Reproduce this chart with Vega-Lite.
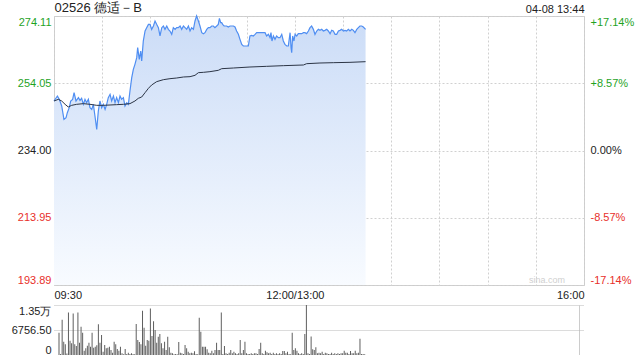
{
 "$schema": "https://vega.github.io/schema/vega-lite/v6.json",
 "padding": {"left": 11, "top": 0, "right": 0, "bottom": 0},
 "background": "white",
 "config": {
  "font": "Liberation Sans",
  "view": {"stroke": null},
  "axis": {"labelFont": "Liberation Sans", "labelFontSize": 11, "labelColor": "#333333", "title": null, "ticks": false, "domain": false}
 },
 "spacing": 4,
 "datasets": {
  "price": [
   {"t":0,"p":248.76},{"t":2.1,"p":250.25},{"t":3.3,"p":249.26},{"t":4.8,"p":247.27},{"t":6.2,"p":243.29},{"t":7.5,"p":243.79},{"t":8.3,"p":245.28},{"t":9.5,"p":246.77},{"t":10.4,"p":248.76},{"t":11.6,"p":249.26},{"t":12.5,"p":251.25},{"t":13.7,"p":248.76},{"t":15.2,"p":249.76},{"t":16.2,"p":248.96},{"t":17.2,"p":249.56},{"t":18.3,"p":247.77},{"t":19.3,"p":249.26},{"t":20.3,"p":248.27},{"t":21.4,"p":249.26},{"t":22.4,"p":246.77},{"t":23.5,"p":246.28},{"t":24.5,"p":247.77},{"t":25.5,"p":244.29},{"t":26.6,"p":240.31},{"t":27.6,"p":245.78},{"t":28.6,"p":248.76},{"t":29.7,"p":246.77},{"t":30.7,"p":247.77},{"t":31.8,"p":246.28},{"t":32.8,"p":247.77},{"t":33.8,"p":249.76},{"t":34.9,"p":250.75},{"t":35.9,"p":248.76},{"t":37.0,"p":250.25},{"t":38.0,"p":248.27},{"t":39.0,"p":249.76},{"t":40.1,"p":248.27},{"t":41.1,"p":250.25},{"t":42.1,"p":249.26},{"t":43.2,"p":249.76},{"t":44.2,"p":247.27},{"t":45.3,"p":248.27},{"t":46.3,"p":247.77},{"t":47.3,"p":251.74},{"t":48.4,"p":255.72},{"t":49.4,"p":258.21},{"t":50.4,"p":259.70},{"t":51.5,"p":261.68},{"t":52.1,"p":264.67},{"t":53.1,"p":261.19},{"t":54.0,"p":263.67},{"t":54.6,"p":260.69},{"t":55.6,"p":266.65},{"t":56.7,"p":269.64},{"t":57.7,"p":270.63},{"t":58.8,"p":271.62},{"t":59.8,"p":271.62},{"t":60.8,"p":270.13},{"t":61.9,"p":271.13},{"t":62.9,"p":272.62},{"t":63.9,"p":271.62},{"t":65.0,"p":270.63},{"t":66.0,"p":268.15},{"t":67.1,"p":270.63},{"t":68.1,"p":271.13},{"t":69.1,"p":270.13},{"t":70.2,"p":271.13},{"t":71.2,"p":270.13},{"t":72.2,"p":269.64},{"t":73.3,"p":268.64},{"t":74.3,"p":270.63},{"t":75.4,"p":270.13},{"t":76.4,"p":270.63},{"t":77.4,"p":270.63},{"t":78.5,"p":271.13},{"t":79.5,"p":270.13},{"t":80.6,"p":271.13},{"t":81.6,"p":270.63},{"t":82.6,"p":270.13},{"t":83.7,"p":271.13},{"t":84.7,"p":269.64},{"t":85.7,"p":270.63},{"t":86.8,"p":270.13},{"t":87.8,"p":272.62},{"t":88.8,"p":274.11},{"t":89.9,"p":272.62},{"t":90.9,"p":271.13},{"t":92.0,"p":269.14},{"t":93.0,"p":268.84},{"t":94.0,"p":269.14},{"t":95.1,"p":270.13},{"t":96.1,"p":270.63},{"t":97.1,"p":270.63},{"t":98.2,"p":271.13},{"t":99.2,"p":271.13},{"t":100.2,"p":270.63},{"t":101.3,"p":271.13},{"t":102.3,"p":271.62},{"t":103.0,"p":273.41},{"t":103.8,"p":272.12},{"t":104.4,"p":272.12},{"t":105.0,"p":271.62},{"t":105.9,"p":271.13},{"t":106.5,"p":271.13},{"t":107.5,"p":271.13},{"t":108.5,"p":270.83},{"t":109.6,"p":271.13},{"t":110.6,"p":271.13},{"t":111.7,"p":271.13},{"t":112.7,"p":270.83},{"t":113.7,"p":269.64},{"t":114.8,"p":268.64},{"t":115.8,"p":267.15},{"t":116.9,"p":265.66},{"t":117.9,"p":265.16},{"t":118.9,"p":265.16},{"t":120.0,"p":265.16},{"t":121.0,"p":265.16},{"t":122.0,"p":268.15},{"t":123.1,"p":268.34},{"t":124.1,"p":268.15},{"t":125.2,"p":268.64},{"t":126.2,"p":269.14},{"t":127.2,"p":269.14},{"t":128.3,"p":269.14},{"t":129.3,"p":269.14},{"t":130.3,"p":269.14},{"t":131.4,"p":269.14},{"t":132.4,"p":268.15},{"t":133.5,"p":268.64},{"t":134.5,"p":267.65},{"t":135.1,"p":269.14},{"t":135.7,"p":266.65},{"t":136.6,"p":268.15},{"t":137.6,"p":267.15},{"t":138.6,"p":268.15},{"t":139.7,"p":267.65},{"t":140.7,"p":267.65},{"t":141.8,"p":268.64},{"t":142.8,"p":266.65},{"t":143.8,"p":265.66},{"t":144.9,"p":265.16},{"t":145.9,"p":265.16},{"t":147.0,"p":269.14},{"t":147.6,"p":264.67},{"t":148.0,"p":263.18},{"t":148.6,"p":268.15},{"t":149.4,"p":266.65},{"t":150.1,"p":268.64},{"t":151.1,"p":268.15},{"t":152.1,"p":268.84},{"t":153.2,"p":268.84},{"t":154.2,"p":268.84},{"t":155.3,"p":269.14},{"t":156.3,"p":269.14},{"t":157.3,"p":268.84},{"t":158.4,"p":269.64},{"t":159.4,"p":270.63},{"t":160.4,"p":271.13},{"t":161.5,"p":270.13},{"t":162.5,"p":268.64},{"t":163.6,"p":269.64},{"t":164.6,"p":270.13},{"t":165.6,"p":269.83},{"t":166.7,"p":270.13},{"t":167.7,"p":269.64},{"t":168.7,"p":269.83},{"t":169.8,"p":270.13},{"t":170.8,"p":269.64},{"t":171.9,"p":268.84},{"t":172.9,"p":269.83},{"t":173.9,"p":269.64},{"t":175.0,"p":268.64},{"t":176.0,"p":268.64},{"t":177.1,"p":269.64},{"t":178.1,"p":269.83},{"t":179.1,"p":270.13},{"t":180.2,"p":269.64},{"t":181.2,"p":269.83},{"t":182.2,"p":269.64},{"t":183.3,"p":270.13},{"t":184.3,"p":269.64},{"t":185.4,"p":270.13},{"t":186.4,"p":269.83},{"t":187.4,"p":269.14},{"t":188.5,"p":270.13},{"t":189.5,"p":270.63},{"t":190.5,"p":271.13},{"t":191.6,"p":271.13},{"t":192.6,"p":270.83},{"t":194,"p":270.13}
  ],
  "avg": [
   {"t":0,"a":248.76},{"t":2.7,"a":249.26},{"t":4.8,"a":248.76},{"t":6.9,"a":247.77},{"t":8.9,"a":246.97},{"t":11.0,"a":247.47},{"t":14.1,"a":247.77},{"t":18.3,"a":247.97},{"t":22.4,"a":247.77},{"t":26.6,"a":247.47},{"t":30.7,"a":247.47},{"t":34.9,"a":247.57},{"t":39.0,"a":247.67},{"t":43.2,"a":247.77},{"t":47.3,"a":247.97},{"t":50.4,"a":248.76},{"t":52.5,"a":249.56},{"t":54.6,"a":249.95},{"t":56.7,"a":251.25},{"t":58.8,"a":252.54},{"t":60.8,"a":253.53},{"t":63.9,"a":254.53},{"t":68.1,"a":255.12},{"t":72.2,"a":255.42},{"t":76.4,"a":255.62},{"t":80.6,"a":255.92},{"t":84.7,"a":256.02},{"t":87.8,"a":256.42},{"t":89.9,"a":257.21},{"t":93.0,"a":257.31},{"t":97.1,"a":257.51},{"t":102.3,"a":257.91},{"t":104.4,"a":258.40},{"t":111.7,"a":258.60},{"t":122.0,"a":258.90},{"t":132.4,"a":259.10},{"t":142.8,"a":259.30},{"t":155.3,"a":259.50},{"t":157.3,"a":259.89},{"t":165.6,"a":260.09},{"t":173.9,"a":260.19},{"t":184.3,"a":260.29},{"t":194,"a":260.49}
  ],
  "vol": [
   {"t":0,"v":6000},{"t":1,"v":300},{"t":2,"v":9500},{"t":3,"v":3600},{"t":4,"v":2880},{"t":5,"v":400},{"t":6,"v":11500},{"t":7,"v":3870},{"t":8,"v":3150},{"t":9,"v":11200},{"t":10,"v":2880},{"t":11,"v":2430},{"t":12,"v":11500},{"t":13,"v":3330},{"t":14,"v":7650},{"t":15,"v":6030},{"t":16,"v":1170},{"t":17,"v":1800},{"t":18,"v":2520},{"t":19,"v":3330},{"t":20,"v":2250},{"t":21,"v":6030},{"t":22,"v":1980},{"t":23,"v":2250},{"t":24,"v":2610},{"t":25,"v":8300},{"t":26,"v":3330},{"t":27,"v":5400},{"t":28,"v":900},{"t":29,"v":2700},{"t":30,"v":1800},{"t":31,"v":1980},{"t":32,"v":2250},{"t":33,"v":1350},{"t":34,"v":630},{"t":35,"v":3600},{"t":36,"v":2880},{"t":37,"v":1620},{"t":38,"v":1170},{"t":39,"v":2250},{"t":40,"v":450},{"t":41,"v":200},{"t":42,"v":1620},{"t":43,"v":270},{"t":44,"v":630},{"t":45,"v":270},{"t":46,"v":450},{"t":47,"v":270},{"t":48,"v":200},{"t":49,"v":8400},{"t":50,"v":4050},{"t":51,"v":3510},{"t":52,"v":2880},{"t":53,"v":11950},{"t":54,"v":7390},{"t":55,"v":2520},{"t":56,"v":4050},{"t":57,"v":3870},{"t":58,"v":12600},{"t":59,"v":5130},{"t":60,"v":9100},{"t":61,"v":6760},{"t":62,"v":3330},{"t":63,"v":4950},{"t":64,"v":5670},{"t":65,"v":3150},{"t":66,"v":1800},{"t":67,"v":3600},{"t":68,"v":1350},{"t":69,"v":4950},{"t":70,"v":2070},{"t":71,"v":630},{"t":72,"v":450},{"t":73,"v":180},{"t":74,"v":270},{"t":75,"v":200},{"t":76,"v":3510},{"t":77,"v":630},{"t":78,"v":450},{"t":79,"v":270},{"t":80,"v":2700},{"t":81,"v":1800},{"t":82,"v":900},{"t":83,"v":450},{"t":84,"v":630},{"t":85,"v":450},{"t":86,"v":990},{"t":87,"v":270},{"t":88,"v":200},{"t":89,"v":10100},{"t":90,"v":6300},{"t":91,"v":2250},{"t":92,"v":2250},{"t":93,"v":2250},{"t":94,"v":1530},{"t":95,"v":630},{"t":96,"v":450},{"t":97,"v":1170},{"t":98,"v":450},{"t":99,"v":1350},{"t":100,"v":3330},{"t":101,"v":1350},{"t":102,"v":1350},{"t":103,"v":11500},{"t":104,"v":300},{"t":105,"v":2430},{"t":106,"v":450},{"t":107,"v":270},{"t":108,"v":630},{"t":109,"v":1350},{"t":110,"v":450},{"t":111,"v":900},{"t":112,"v":450},{"t":113,"v":270},{"t":114,"v":450},{"t":115,"v":4050},{"t":116,"v":450},{"t":117,"v":1350},{"t":118,"v":3600},{"t":119,"v":450},{"t":120,"v":270},{"t":121,"v":270},{"t":122,"v":450},{"t":123,"v":270},{"t":124,"v":450},{"t":125,"v":450},{"t":126,"v":300},{"t":127,"v":1620},{"t":128,"v":3330},{"t":129,"v":450},{"t":130,"v":270},{"t":131,"v":1170},{"t":132,"v":720},{"t":133,"v":450},{"t":134,"v":630},{"t":135,"v":270},{"t":136,"v":630},{"t":137,"v":270},{"t":138,"v":450},{"t":139,"v":270},{"t":140,"v":450},{"t":141,"v":270},{"t":142,"v":1080},{"t":143,"v":1080},{"t":144,"v":450},{"t":145,"v":900},{"t":146,"v":270},{"t":147,"v":200},{"t":148,"v":6000},{"t":149,"v":1350},{"t":150,"v":1800},{"t":151,"v":1170},{"t":152,"v":450},{"t":153,"v":270},{"t":154,"v":450},{"t":155,"v":270},{"t":156,"v":5680},{"t":157,"v":13513},{"t":158,"v":450},{"t":159,"v":270},{"t":160,"v":5000},{"t":161,"v":1530},{"t":162,"v":1350},{"t":163,"v":2070},{"t":164,"v":450},{"t":165,"v":630},{"t":166,"v":450},{"t":167,"v":900},{"t":168,"v":270},{"t":169,"v":630},{"t":170,"v":450},{"t":171,"v":300},{"t":172,"v":270},{"t":173,"v":630},{"t":174,"v":270},{"t":175,"v":450},{"t":176,"v":270},{"t":177,"v":450},{"t":178,"v":270},{"t":179,"v":450},{"t":180,"v":450},{"t":181,"v":1170},{"t":182,"v":630},{"t":183,"v":630},{"t":184,"v":270},{"t":185,"v":1080},{"t":186,"v":450},{"t":187,"v":450},{"t":188,"v":1170},{"t":189,"v":450},{"t":190,"v":630},{"t":191,"v":4400},{"t":192,"v":270},{"t":193,"v":270},{"t":194,"v":200}
  ]
 },
 "vconcat": [
  {
   "width": 530,
   "height": 269,
   "view": {"stroke": "#cccccc"},
   "resolve": {"axis": {"x": "independent", "y": "independent"}},
   "layer": [
    {
     "data": {"name": "price"},
     "mark": {"type": "area", "color": {"x1": 0, "y1": 0, "x2": 0, "y2": 1, "gradient": "linear", "stops": [{"offset": 0, "color": "#cbdcf7"}, {"offset": 1, "color": "#f8fbff"}]}},
     "encoding": {
      "x": {"field": "t", "type": "quantitative", "scale": {"domain": [0, 330], "nice": false, "zero": false},
       "axis": {"orient": "bottom", "values": [0, 30, 60, 90, 120, 150, 180, 210, 240, 270, 300, 330],
        "labelExpr": "datum.value == 0 ? '09:30' : datum.value == 150 ? '12:00/13:00' : datum.value == 330 ? '16:00' : ''",
        "labelFlush": true, "labelOverlap": false, "labelPadding": 4, "labelColor": "#222222",
        "grid": true, "gridColor": "#d0d0d0", "gridDash": [2, 2]}},
      "y": {"field": "p", "type": "quantitative", "scale": {"domain": [193.89, 274.11], "nice": false, "zero": false},
       "axis": {"orient": "left", "values": [193.89, 213.95, 234, 254.05, 274.11], "format": ".2f", "labelFlush": true, "labelPadding": 3,
        "labelColor": {"condition": [{"test": "datum.value > 234.01", "value": "#1fa31f"}, {"test": "datum.value < 233.99", "value": "#e8302b"}], "value": "#222222"},
        "grid": true, "gridColor": "#d0d0d0", "gridDash": [2, 2]}},
      "y2": {"datum": 193.89}
     }
    },
    {
     "data": {"name": "price"},
     "mark": {"type": "line", "color": "#4f8ef2", "strokeWidth": 1.2},
     "encoding": {
      "x": {"field": "t", "type": "quantitative",
       "axis": {"orient": "top", "values": [0, 330], "labelExpr": "datum.value == 0 ? '02526 德适－B' : '04-08 13:44'", "labelFlush": true, "labelPadding": 2, "labelColor": "#222222",
        "labelFontSize": {"condition": {"test": "datum.value == 0", "value": 13}, "value": 11}, "grid": false}},
      "y": {"field": "p", "type": "quantitative",
       "axis": {"orient": "right", "values": [193.89, 213.95, 234, 254.05, 274.11], "labelFlush": true, "labelPadding": 6,
        "labelExpr": "(datum.value > 234.01 ? '+' : datum.value < 233.99 ? '-' : '') + format(abs(datum.value - 234) / 234 * 100, '.2f') + '%'",
        "labelColor": {"condition": [{"test": "datum.value > 234.01", "value": "#1fa31f"}, {"test": "datum.value < 233.99", "value": "#e8302b"}], "value": "#222222"},
        "grid": false}}
     }
    },
    {
     "data": {"name": "avg"},
     "mark": {"type": "line", "color": "#2c3546", "strokeWidth": 1},
     "encoding": {
      "x": {"field": "t", "type": "quantitative", "axis": null},
      "y": {"field": "a", "type": "quantitative", "axis": null}
     }
    },
    {
     "data": {"values": [{"label": "sina.com"}]},
     "mark": {"type": "text", "color": "#cfcfcf", "fontSize": 9, "align": "center", "baseline": "middle"},
     "encoding": {
      "text": {"field": "label"},
      "x": {"datum": 307, "type": "quantitative", "axis": null},
      "y": {"datum": 195.4, "type": "quantitative", "axis": null}
     }
    }
   ]
  },
  {
   "width": 530,
   "height": 50,
   "data": {"name": "vol"},
   "mark": {"type": "bar", "width": 1, "color": "#5f5f5f"},
   "encoding": {
    "x": {"field": "t", "type": "quantitative", "scale": {"domain": [0, 330], "nice": false, "zero": false},
     "axis": {"values": [330], "labels": false, "grid": true, "gridColor": "#cccccc"}},
    "y": {"field": "v", "type": "quantitative", "scale": {"domain": [0, 13513], "nice": false},
     "axis": {"values": [0, 6756.5, 13513], "labelFlush": true, "labelPadding": 3, "labelColor": "#222222",
      "labelExpr": "datum.value == 0 ? '0' : datum.value > 10000 ? format(datum.value / 10000, '.2f') + '万' : format(datum.value, '.2f')",
      "grid": true, "gridColor": "#b8b8b8", "gridDash": [1, 1]}}
   }
  }
 ]
}
